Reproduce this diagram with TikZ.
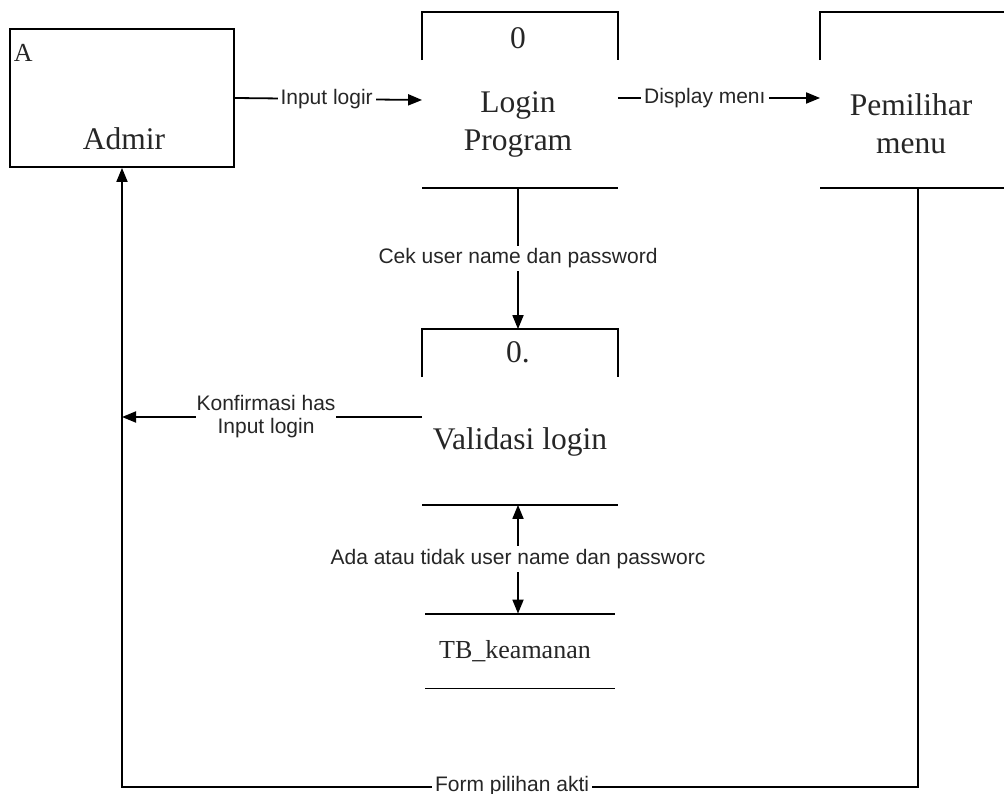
\documentclass[tikz,border=0pt]{standalone}
\usepackage{fontspec}
\setmainfont{Liberation Serif}
\setsansfont{Liberation Sans}
\usetikzlibrary{arrows.meta}
\begin{document}
\begin{tikzpicture}[x=1pt,y=-1pt,
  line width=1.8pt,
  serif/.style={font=\rmfamily\fontsize{31.5}{38}\selectfont, text=black!85, align=center, inner sep=0pt},
  flowlabel/.style={font=\sffamily\fontsize{21}{23}\selectfont, text=black!85, fill=white, inner sep=3pt, align=center},
  flow/.style={-{Triangle[length=14pt,width=11pt]}},
  biflow/.style={{Triangle[length=14pt,width=11pt]}-{Triangle[length=14pt,width=11pt]}},
  procbox/.style={minimum width=194pt, minimum height=174pt, inner sep=0pt},
  storebox/.style={minimum width=188pt, minimum height=73pt, inner sep=0pt}
]
\useasboundingbox (0,0) rectangle (1004,794);
\begin{scope}
\clip (0,0) rectangle (1004,794);
% Admin external entity
\node[draw, minimum width=224pt, minimum height=138pt, inner sep=0pt] (admin) at (122,98) {};
\node[serif, anchor=north west, font=\rmfamily\fontsize{26}{30}\selectfont] (admA) at (13,43) {A};
\node[serif] (admtxt) at (124,139) {Admir};

% Login Program process
\node[procbox] (lp) at (520,100) {};
\draw (lp.north west) ++(0,48) -- (lp.north west) -- (lp.north east) -- ++(0,48);
\draw (lp.south west) -- (lp.south east);
\node[serif] (lpnum) at (518,38) {0};
\node[serif] (lptxt) at (518,124) {Login\\Program};

% Pemilihan menu process
\node[procbox] (pm) at (918,100) {};
\draw (pm.north west) ++(0,48) -- (pm.north west) -- (pm.north east) -- ++(0,48);
\draw (pm.south west) -- (pm.south east);
\node[serif] (pmtxt) at (911,124) {Pemilihar\\menu};

% Validasi login process
\node[procbox] (val) at (520,417) {};
\draw (val.north west) ++(0,48) -- (val.north west) -- (val.north east) -- ++(0,48);
\draw (val.south west) -- (val.south east);
\node[serif] (valnum) at (518,352) {0.};
\node[serif] (valtxt) at (520,442) {Validasi login};

% TB_keamanan data store
\node[storebox] (tb) at (520,651) {};
\draw (tb.north west) -- (tb.north east);
\draw (tb.south west) -- (tb.south east);
\node[serif, font=\rmfamily\fontsize{26}{30}\selectfont] (tbtxt) at (515,651) {TB\_keamanan};

% Flows
\draw[flow] (admin.east) -- node[flowlabel, pos=0.49] {Input logir} (lp.west);
\draw[flow] (lp.east |- admin.east) -- node[flowlabel, pos=0.43] {Display men\i} (pm.west |- admin.east);
\draw[flow] (lp.south -| lptxt) -- node[flowlabel] {Cek user name dan password} (val.north -| lptxt);
\draw[biflow] (val.south -| lptxt) -- node[flowlabel] {Ada atau tidak user name dan passworc} (tb.north -| lptxt);
\coordinate (konf) at (admin.south |- val.west);
\draw[flow] (val.west) -- node[flowlabel, pos=0.52, inner sep=1pt] {Konfirmasi has\\Input login} (konf);
\coordinate (botR) at (pm.south |- 0,787);
\draw[flow] (pm.south) -- (botR) -- node[flowlabel, pos=0.51, yshift=1pt] {Form pilihan akti} (botR -| admin.south) -- (admin.south);
\end{scope}
\end{tikzpicture}
\end{document}
